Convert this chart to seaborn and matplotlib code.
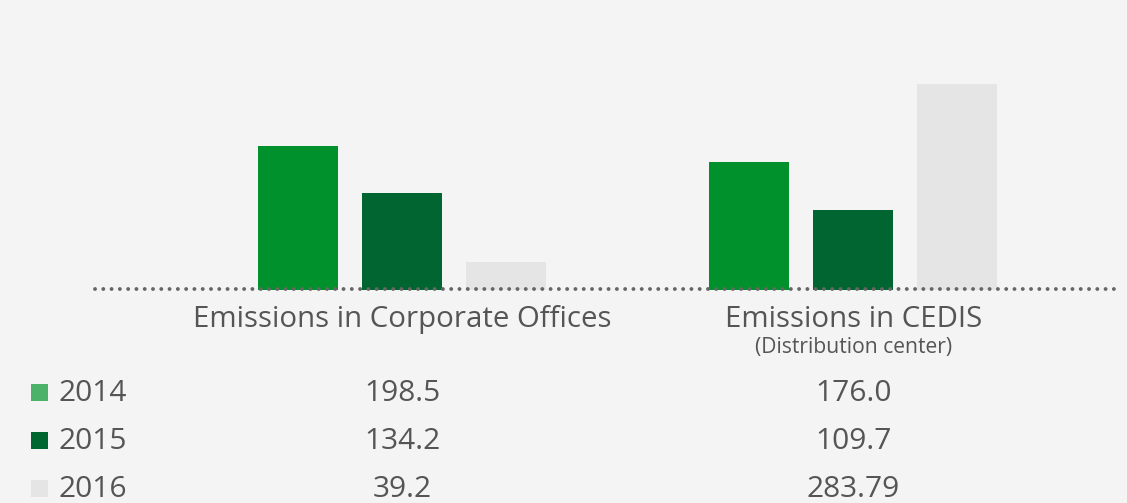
import matplotlib
matplotlib.use("Agg")
import matplotlib.pyplot as plt
import matplotlib.transforms as mtransforms
from matplotlib.patches import Rectangle
import pandas as pd
import seaborn as sns

# Emissions by site and year
categories = ["Emissions in Corporate Offices", "Emissions in CEDIS"]
subtitles = ["", "(Distribution center)"]
years = ["2014", "2015", "2016"]
values_2014 = [198.5, 176.0]
values_2015 = [134.2, 109.7]
values_2016 = [39.2, 283.79]
value_labels = {
    "2014": ["198.5", "176.0"],
    "2015": ["134.2", "109.7"],
    "2016": ["39.2", "283.79"],
}

bar_colors = {"2014": "#00902c", "2015": "#006530", "2016": "#e5e5e5"}
legend_colors = {"2014": "#4cb26a", "2015": "#00662f", "2016": "#e5e5e5"}
BG = "#f4f4f4"
TEXT = "#555555"

df = pd.DataFrame({
    "category": categories * 3,
    "year": [y for y in years for _ in categories],
    "value": values_2014 + values_2015 + values_2016,
})

sns.set_theme(style="white")
plt.rcParams["font.family"] = ["Open Sans", "DejaVu Sans"]

W, H = 1127, 503
fig = plt.figure(figsize=(W / 100, H / 100), dpi=100, facecolor=BG)

# plot area: x 95..1117 px, baseline at y=290 px from the top
ax = fig.add_axes([95 / W, (H - 290) / H, 1022 / W, 290 / H])
ax.set_facecolor(BG)

sns.barplot(data=df, x="category", y="value", hue="year", hue_order=years,
            order=categories, palette=bar_colors, width=0.692, gap=0.23,
            saturation=1, linewidth=0, edgecolor="none", ax=ax,
            legend=False, zorder=2)

ax.set_xlim(-0.681, 1.585)
ax.set_ylim(0, 400)
ax.set_xlabel("")
ax.set_ylabel("")
ax.set_xticks([])
ax.set_yticks([])
for s in ax.spines.values():
    s.set_visible(False)

# dotted baseline
ax.axhline(2, xmin=0.0, xmax=0.998, color="#666666", linewidth=2.8,
           linestyle=(0, (0.01, 2.12)), dash_capstyle="round", zorder=3,
           clip_on=False)

def fy(px):
    return (H - px) / H

trans = mtransforms.blended_transform_factory(ax.transData, fig.transFigure)

# category labels under the bars
for i, (cat, sub) in enumerate(zip(categories, subtitles)):
    ax.text(i, fy(327), cat, transform=trans, ha="center", va="baseline",
            fontsize=21.2, color=TEXT)
    if sub:
        ax.text(i, fy(353), sub, transform=trans, ha="center",
                va="baseline", fontsize=15.2, color=TEXT)

# value table with year legend
row_baselines = {"2014": 401, "2015": 449, "2016": 497}
for yr in years:
    base = row_baselines[yr]
    fig.patches.append(Rectangle((31 / W, fy(base)), 17 / W, 17 / H,
                                 transform=fig.transFigure,
                                 facecolor=legend_colors[yr],
                                 edgecolor="none"))
    fig.text(58 / W, fy(base), yr, ha="left", va="baseline",
             fontsize=21.5, color=TEXT)
    for i, lbl in enumerate(value_labels[yr]):
        ax.text(i, fy(base), lbl, transform=trans, ha="center",
                va="baseline", fontsize=21.5, color=TEXT)

fig.savefig("out.png", dpi=100, facecolor=BG)
